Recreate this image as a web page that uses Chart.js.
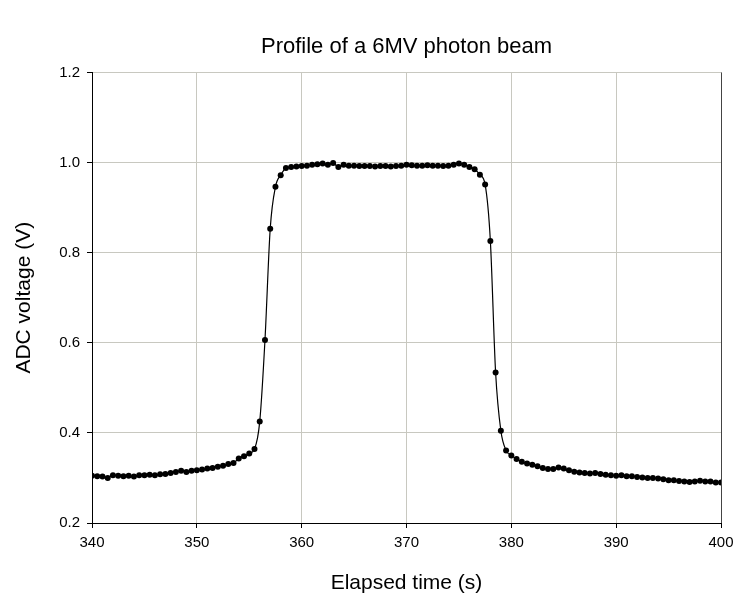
<!DOCTYPE html>
<html>
<head>
<meta charset="utf-8">
<title>Profile of a 6MV photon beam</title>
<script src="https://cdn.jsdelivr.net/npm/chart.js@4.4.0/dist/chart.umd.min.js"></script>
<style>
  html, body { margin: 0; padding: 0; background: #fff; }
  #profileChart { display: block; }
</style>
</head>
<body>
<canvas id="profileChart" width="737" height="601"></canvas>
<script>
"use strict";

const CHART_TITLE = 'Profile of a 6MV photon beam';
const X_TITLE = 'Elapsed time (s)';
const Y_TITLE = 'ADC voltage (V)';

// Sample times (s), every half second
const elapsedTimes = [
  340.0, 340.5, 341.0, 341.5, 342.0, 342.5, 343.0, 343.5, 344.0, 344.5,
  345.0, 345.5, 346.0, 346.5, 347.0, 347.5, 348.0, 348.5, 349.0, 349.5,
  350.0, 350.5, 351.0, 351.5, 352.0, 352.5, 353.0, 353.5, 354.0, 354.5,
  355.0, 355.5, 356.0, 356.5, 357.0, 357.5, 358.0, 358.5, 359.0, 359.5,
  360.0, 360.5, 361.0, 361.5, 362.0, 362.5, 363.0, 363.5, 364.0, 364.5,
  365.0, 365.5, 366.0, 366.5, 367.0, 367.5, 368.0, 368.5, 369.0, 369.5,
  370.0, 370.5, 371.0, 371.5, 372.0, 372.5, 373.0, 373.5, 374.0, 374.5,
  375.0, 375.5, 376.0, 376.5, 377.0, 377.5, 378.0, 378.5, 379.0, 379.5,
  380.0, 380.5, 381.0, 381.5, 382.0, 382.5, 383.0, 383.5, 384.0, 384.5,
  385.0, 385.5, 386.0, 386.5, 387.0, 387.5, 388.0, 388.5, 389.0, 389.5,
  390.0, 390.5, 391.0, 391.5, 392.0, 392.5, 393.0, 393.5, 394.0, 394.5,
  395.0, 395.5, 396.0, 396.5, 397.0, 397.5, 398.0, 398.5, 399.0, 399.5,
  400.0
];

// ADC voltage (V) at each sample time
const adcVoltages = [
  0.305, 0.304, 0.303, 0.300, 0.306, 0.305, 0.304, 0.305, 0.303, 0.306,
  0.306, 0.307, 0.306, 0.308, 0.309, 0.311, 0.313, 0.316, 0.313, 0.316,
  0.317, 0.319, 0.321, 0.322, 0.325, 0.327, 0.331, 0.333, 0.343, 0.348,
  0.354, 0.364, 0.425, 0.606, 0.853, 0.946, 0.972, 0.988, 0.990, 0.991,
  0.992, 0.993, 0.995, 0.996, 0.998, 0.995, 0.999, 0.990, 0.995, 0.993,
  0.993, 0.992, 0.992, 0.992, 0.991, 0.992, 0.992, 0.991, 0.992, 0.993,
  0.995, 0.994, 0.993, 0.993, 0.994, 0.993, 0.993, 0.992, 0.993, 0.995,
  0.998, 0.995, 0.990, 0.985, 0.973, 0.951, 0.826, 0.534, 0.405, 0.361,
  0.350, 0.342, 0.336, 0.332, 0.329, 0.326, 0.322, 0.320, 0.320, 0.323,
  0.321, 0.317, 0.314, 0.312, 0.311, 0.310, 0.311, 0.309, 0.307, 0.306,
  0.305, 0.306, 0.304, 0.304, 0.302, 0.301, 0.300, 0.300, 0.299, 0.297,
  0.295, 0.295, 0.293, 0.292, 0.291, 0.292, 0.294, 0.292, 0.292, 0.290,
  0.290
];

// Axis ranges / tick steps
const xRange = [340, 400];
const xStep = 10;
const yRange = [0.2, 1.2];
const yStep = 0.2;

const GRID_COLOR = '#c8c8c0';
const AXIS_COLOR = '#000';
const FONT_FAMILY = '"Liberation Sans", Arial, sans-serif';

const profilePoints = elapsedTimes.map((t, i) => ({ x: t, y: adcVoltages[i] }));

const ctxProfile = document.getElementById('profileChart');
new Chart(ctxProfile, {
  type: 'line',
  data: {
    datasets: [{
      label: 'ADC voltage',
      data: profilePoints,
      borderColor: '#000',
      borderWidth: 1.2,
      cubicInterpolationMode: 'monotone',
      pointRadius: 3,
      pointBorderWidth: 0,
      pointBackgroundColor: '#000',
      fill: false
    }]
  },
  options: {
    responsive: false,
    animation: false,
    layout: {
      padding: { left: 0, right: 16, top: 0, bottom: 0 }
    },
    plugins: {
      legend: { display: false },
      tooltip: { enabled: false },
      title: {
        display: true,
        fullSize: false, // center over the plot area, not the canvas
        text: CHART_TITLE,
        color: '#000',
        font: { family: FONT_FAMILY, size: 22, weight: 'normal' },
        padding: { top: 34, bottom: 12 },
        align: 'center'
      }
    },
    scales: {
      x: {
        type: 'linear',
        min: xRange[0],
        max: xRange[1],
        afterFit: (scale) => {
          scale.height = 78;
          // keep the last tick label from pushing the plot area in
          scale.paddingRight = 0;
          scale.paddingLeft = 0;
        },
        ticks: {
          stepSize: xStep,
          color: '#000',
          padding: 6,
          maxRotation: 0,
          font: { family: FONT_FAMILY, size: 15 }
        },
        grid: {
          color: (ctx) => ctx.tick && ctx.tick.value === xRange[1] ? '#444' : GRID_COLOR,
          tickColor: AXIS_COLOR,
          tickLength: 5,
          lineWidth: 1
        },
        border: { color: AXIS_COLOR, width: 1 },
        title: {
          display: true,
          text: X_TITLE,
          color: '#000',
          font: { family: FONT_FAMILY, size: 21 },
          padding: { top: 0, bottom: 5 }
        }
      },
      y: {
        min: yRange[0],
        max: yRange[1],
        afterFit: (scale) => { scale.width = 92; },
        ticks: {
          stepSize: yStep,
          color: '#000',
          padding: 7,
          font: { family: FONT_FAMILY, size: 15 },
          callback: (value) => value.toFixed(1)
        },
        grid: {
          color: GRID_COLOR,
          tickColor: AXIS_COLOR,
          tickLength: 5,
          lineWidth: 1
        },
        border: { color: AXIS_COLOR, width: 1 },
        title: {
          display: true,
          text: Y_TITLE,
          color: '#000',
          font: { family: FONT_FAMILY, size: 21 },
          padding: { top: 12, bottom: 0 }
        }
      }
    }
  }
});
</script>
</body>
</html>
